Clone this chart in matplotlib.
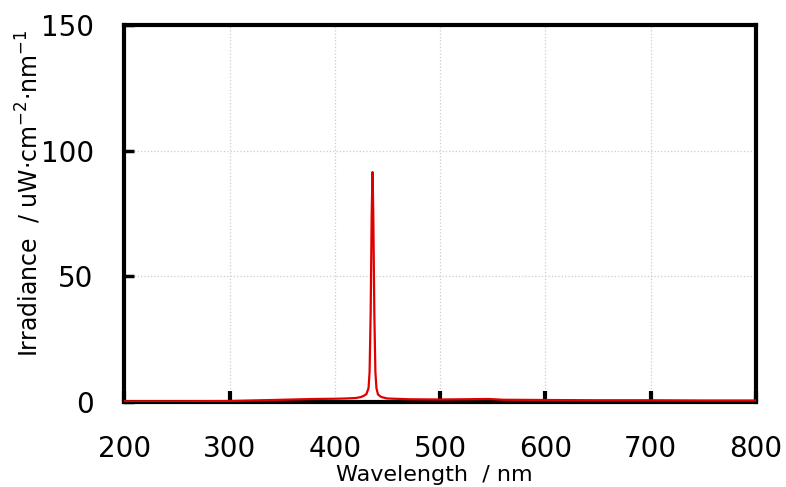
import matplotlib
matplotlib.use('Agg')
import matplotlib.pyplot as plt

# Spectrum (nm, uW/cm2/nm)
wavelength = [200, 250, 300, 320, 340, 360, 380, 400, 410, 420, 425, 428, 430,
              432, 433, 434, 435, 435.8, 436.5, 437.5, 438.5, 439.5, 441, 444,
              450, 470, 500, 546, 560, 600, 650, 700, 750, 800]
irradiance = [0.3, 0.3, 0.4, 0.6, 0.8, 1.0, 1.2, 1.3, 1.4, 1.6, 2.0, 2.6, 3.2,
              5.5, 12, 35, 75, 91.5, 75, 35, 12, 5.5, 3.0, 2.0,
              1.4, 1.1, 1.0, 1.2, 0.9, 0.8, 0.7, 0.7, 0.6, 0.6]

x_ticks = [200, 300, 400, 500, 600, 700, 800]
y_ticks = [0, 50, 100, 150]

fig = plt.figure(figsize=(7.86, 4.87), dpi=100)
ax = fig.add_axes([0.158, 0.1745, 0.804, 0.774])

# faint dotted grid
for xv in x_ticks[1:-1]:
    ax.axvline(xv, color='#cccccc', linestyle=':', linewidth=0.9, zorder=1)
for yv in y_ticks[1:-1]:
    ax.axhline(yv, color='#cccccc', linestyle=':', linewidth=0.9, zorder=1)

ax.plot(wavelength, irradiance, color='#e00000', linewidth=1.6, zorder=3)

ax.set_xlim(200, 800)
ax.set_ylim(0, 150)
ax.set_xticks(x_ticks)
ax.set_yticks(y_ticks)

for s in ax.spines.values():
    s.set_linewidth(3)
    s.set_color('black')

ax.tick_params(axis='x', direction='in', length=8, width=3, pad=24,
               labelsize=20)
ax.tick_params(axis='y', direction='in', length=7, width=2.5, pad=22,
               labelsize=20)
ax.xaxis.get_major_ticks()[2].tick1line.set_visible(False)

ax.set_xlabel('Wavelength  / nm', fontsize=16)
ax.xaxis.set_label_coords(0.49, -0.168)
ax.set_ylabel('Irradiance  / uW$\\cdot$cm$^{-2}$$\\cdot$nm$^{-1}$', fontsize=17)
ax.yaxis.set_label_coords(-0.128, 0.554)

fig.savefig('out.png', dpi=100)
